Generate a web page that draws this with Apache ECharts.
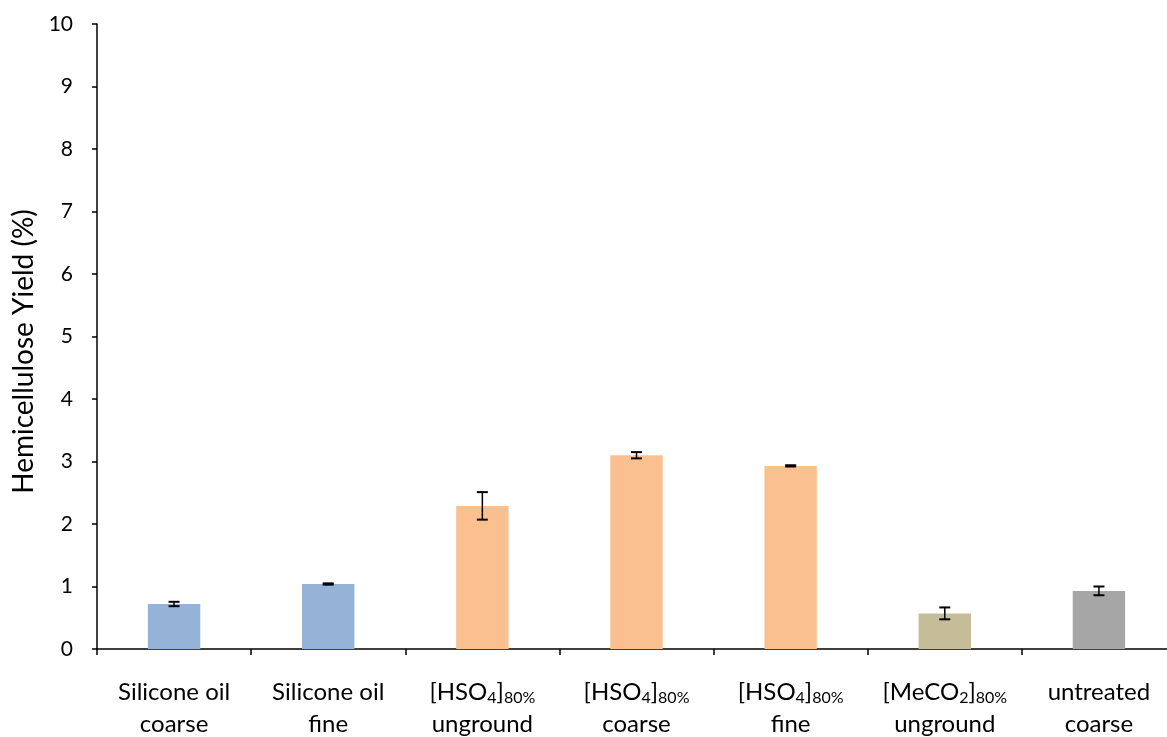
<!DOCTYPE html>
<html>
<head>
<meta charset="utf-8">
<script src="https://cdn.jsdelivr.net/npm/echarts@6/dist/echarts.min.js"></script>
<style>
  html, body { margin: 0; padding: 0; background: #fff; }
  #chart { width: 1167px; height: 737px; }
</style>
</head>
<body>
<div id="chart"></div>
<script>
// Pretreatment conditions (rich-text labels carry the subscripts)
const categories = [
  'Silicone oil\ncoarse',
  'Silicone oil\nfine',
  '{n|[HSO}{s|4}{n|]}{s|80%}\n{n|unground}',
  '{n|[HSO}{s|4}{n|]}{s|80%}\n{n|coarse}',
  '{n|[HSO}{s|4}{n|]}{s|80%}\n{n|fine}',
  '{n|[MeCO}{s|2}{n|]}{s|80%}\n{n|unground}',
  'untreated\ncoarse'
];
// Hemicellulose yield (%) and standard deviation
const yieldValues = [0.72, 1.04, 2.29, 3.10, 2.93, 0.57, 0.93];
const yieldErrors = [0.035, 0.01, 0.22, 0.05, 0.01, 0.095, 0.07];
const barColors = ['#95B3D7', '#95B3D7', '#FAC090', '#FAC090', '#FAC090', '#C4BD97', '#A6A6A6'];
const yTicks = { min: 0, max: 10, interval: 1 };

const FONT = 'Lato, "Open Sans", sans-serif';
const chart = echarts.init(document.getElementById('chart'), null, { renderer: 'canvas' });

chart.setOption({
  animation: false,
  backgroundColor: '#ffffff',
  grid: { left: 97, top: 24, right: -9, bottom: 88, containLabel: false, outerBoundsMode: 'none' },
  xAxis: {
    type: 'category',
    data: categories,
    axisLine: { lineStyle: { color: '#000', width: 1.5 } },
    axisTick: { show: true, alignWithLabel: false, length: 6, inside: false, lineStyle: { color: '#000', width: 1.5 } },
    axisLabel: {
      interval: 0,
      margin: 27,
      color: '#000',
      fontFamily: FONT,
      fontSize: 24,
      lineHeight: 32,
      align: 'center',
      rich: {
        n: { fontFamily: FONT, fontSize: 24, color: '#000', lineHeight: 32 },
        s: { fontFamily: FONT, fontSize: 16, color: '#000', lineHeight: 32, padding: [11, 0, 0, 0] }
      }
    }
  },
  yAxis: {
    type: 'value',
    min: yTicks.min,
    max: yTicks.max,
    interval: yTicks.interval,
    name: 'Hemicellulose Yield (%)',
    nameLocation: 'middle',
    nameGap: 58,
    nameTextStyle: { fontFamily: FONT, fontSize: 28, color: '#000', padding: [0, 30, 0, 0] },
    axisLine: { show: true, lineStyle: { color: '#000', width: 1.5 } },
    axisTick: { show: true, length: 5, lineStyle: { color: '#000', width: 1.5 } },
    axisLabel: { margin: 24, color: '#000', fontFamily: FONT, fontSize: 21 },
    splitLine: { show: false }
  },
  series: [
    {
      type: 'bar',
      barWidth: '34%',
      data: yieldValues.map((v, i) => ({ value: v, itemStyle: { color: barColors[i] } }))
    },
    {
      type: 'custom',
      data: yieldValues.map((v, i) => [i, v - yieldErrors[i], v + yieldErrors[i]]),
      renderItem: function (params, api) {
        const lo = api.coord([api.value(0), api.value(1)]);
        const hi = api.coord([api.value(0), api.value(2)]);
        const half = 5.5;
        const style = { stroke: '#000', lineWidth: 1.5 };
        return {
          type: 'group',
          children: [
            { type: 'line', shape: { x1: hi[0], y1: hi[1], x2: lo[0], y2: lo[1] }, style: style },
            { type: 'line', shape: { x1: hi[0] - half, y1: hi[1], x2: hi[0] + half, y2: hi[1] }, style: { stroke: '#000', lineWidth: 2 } },
            { type: 'line', shape: { x1: lo[0] - half, y1: lo[1], x2: lo[0] + half, y2: lo[1] }, style: { stroke: '#000', lineWidth: 2 } }
          ]
        };
      },
      z: 5
    }
  ]
});
</script>
</body>
</html>
